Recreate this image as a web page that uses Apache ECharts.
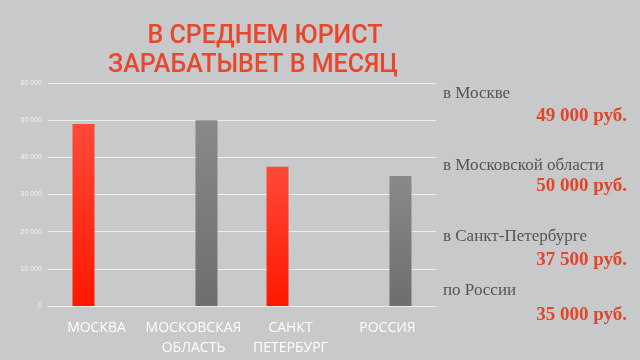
<!DOCTYPE html>
<html><head><meta charset="utf-8">
<script src="https://cdn.jsdelivr.net/npm/echarts@6/dist/echarts.min.js"></script>
<style>html,body{margin:0;padding:0;background:#c8c9cb}#c{width:640px;height:360px}</style>
</head><body><div id="c"></div>
<script>
var categories = ['МОСКВА', 'МОСКОВСКАЯ\nОБЛАСТЬ', 'САНКТ\nПЕТЕРБУРГ', 'РОССИЯ'];
var redValues = [49000, null, 37500, null];
var grayValues = [null, 50000, null, 35000];
var regionNames = ['в Москве', 'в Московской области', 'в Санкт-Петербурге', 'по России'];
var regionValues = [49000, 50000, 37500, 35000];
var titleLines = ['В СРЕДНЕМ ЮРИСТ', 'ЗАРАБАТЫВЕТ В МЕСЯЦ'];

function fmt(v){ return String(v).replace(/\B(?=(\d{3})+(?!\d))/g, ' '); }

var chart = echarts.init(document.getElementById('c'));
var nameY = [95, 167, 238, 292];
var valY = [118, 188, 262, 317];
var graphics = [];
regionNames.forEach(function(n, i){
  graphics.push({type:'text', left:443, top:nameY[i]-10, style:{text:n, fill:'#555', font:'17px "Liberation Serif", "DejaVu Serif", serif'}});
  graphics.push({type:'text', right:13, top:valY[i]-11, style:{text:fmt(regionValues[i]) + ' руб.', fill:'#e2452a', font:'bold 19px "Liberation Serif", "DejaVu Serif", serif', textAlign:'right'}});
});

chart.setOption({
  backgroundColor:'#c8c9cb',
  animation:false,
  title:[
    {text:titleLines[0], left:260, top:19, textAlign:'center', textStyle:{color:'#e9462c', fontSize:25, fontWeight:500, fontFamily:'Roboto, sans-serif'}},
    {text:titleLines[1], left:248, top:48, textAlign:'center', textStyle:{color:'#e9462c', fontSize:25, fontWeight:500, fontFamily:'Roboto, sans-serif'}}
  ],
  grid:{left:48, right:204, top:83, bottom:54},
  xAxis:{type:'category', data:categories,
    axisLine:{lineStyle:{color:'#eeeeee', width:1}}, axisTick:{show:false},
    axisLabel:{color:'#ffffff', fontSize:14, lineHeight:20, margin:12, fontFamily:'"Open Sans", sans-serif', interval:0}},
  yAxis:{type:'value', min:0, max:60000, interval:10000,
    axisLine:{show:false}, axisTick:{show:false},
    splitLine:{lineStyle:{color:'#eeeeee', width:1}},
    axisLabel:{color:'#f2f2f2', fontSize:7, margin:6, formatter:function(v){return fmt(v);}}},
  series:[
    {type:'bar', data:redValues, barWidth:22, barGap:'18%',
      itemStyle:{color:new echarts.graphic.LinearGradient(0,0,0,1,[{offset:0,color:'#ff4a38'},{offset:1,color:'#ff1800'}])}},
    {type:'bar', data:grayValues, barWidth:22, barGap:'18%',
      itemStyle:{color:new echarts.graphic.LinearGradient(0,0,0,1,[{offset:0,color:'#898989'},{offset:1,color:'#6e6e6e'}])}}
  ],
  graphic:graphics
});
</script></body></html>
